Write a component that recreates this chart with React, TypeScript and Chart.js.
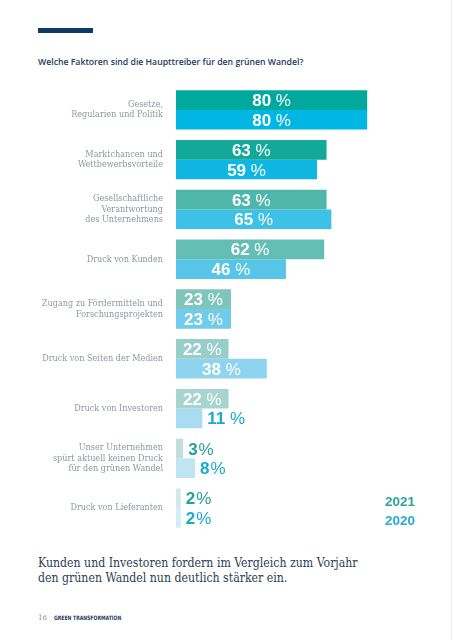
import React, { useEffect, useRef } from "react";
import { Chart, registerables } from "chart.js";

Chart.register(...registerables);

const categories: (string | string[])[] = [
  ["Gesetze,", "Regularien und Politik"],
  ["Marktchancen und", "Wettbewerbsvorteile"],
  ["Gesellschaftliche", "Verantwortung", "des Unternehmens"],
  "Druck von Kunden",
  ["Zugang zu Fördermitteln und", "Forschungsprojekten"],
  "Druck von Seiten der Medien",
  "Druck von Investoren",
  ["Unser Unternehmen", "spürt aktuell keinen Druck", "für den grünen Wandel"],
  "Druck von Lieferanten",
];

const values2021 = [80, 63, 63, 62, 23, 22, 22, 3, 2];
const values2020 = [80, 59, 65, 46, 23, 38, 11, 8, 2];

const colors2021 = ["#00a99b", "#12a89a", "#4fb6ab", "#65beb3", "#80c5bc", "#98cec8", "#a8d4cf", "#c0dfdb", "#d3e9e6"];
const colors2020 = ["#00b6e2", "#10b6e2", "#3ec1e6", "#57c5e8", "#71cbeb", "#8fd4ee", "#a9dcf1", "#bfe5f3", "#d4eef7"];

const seriesLabels = ["2021", "2020"];
const outsideColors = ["#23a394", "#1ba7d2"];

const LABEL_FONT = '9px "DejaVu Serif Condensed", "DejaVu Serif", serif';
const LABEL_LINE = 10.5;

const categoryLabelPlugin = {
  id: "categoryLabels",
  afterDraw(chart: any) {
    const ctx = chart.ctx;
    const yScale = chart.scales.y;
    const xRight = chart.chartArea.left - 13;
    ctx.save();
    ctx.font = LABEL_FONT;
    ctx.fillStyle = "#8e97a4";
    ctx.textAlign = "right";
    ctx.textBaseline = "middle";
    (chart.data.labels as any[]).forEach((lab: any, i: number) => {
      const lines: string[] = Array.isArray(lab) ? lab : [lab];
      const cy = yScale.getPixelForValue(i);
      const start = cy - ((lines.length - 1) * LABEL_LINE) / 2;
      lines.forEach((ln, k) => ctx.fillText(ln, xRight, start + k * LABEL_LINE));
    });
    ctx.restore();
  },
};

const valueLabelPlugin = {
  id: "valueLabels",
  afterDatasetsDraw(chart: any) {
    const ctx = chart.ctx;
    const size = 17;
    chart.data.datasets.forEach((ds: any, di: number) => {
      const meta = chart.getDatasetMeta(di);
      meta.data.forEach((el: any, i: number) => {
        const v = ds.data[i];
        const num = String(v);
        ctx.save();
        ctx.font = `bold ${size}px "Liberation Sans", Arial, sans-serif`;
        const wNum = ctx.measureText(num).width;
        ctx.font = `${size}px "Liberation Sans", Arial, sans-serif`;
        const wPct = ctx.measureText("%").width;
        const gap = v < 10 ? 1 : ctx.measureText(" ").width;
        const total = wNum + gap + wPct;
        const left = Math.min(el.base, el.x);
        const right = Math.max(el.base, el.x);
        const barW = right - left;
        let x0: number;
        let color: string;
        if (barW >= total + 8) {
          x0 = (left + right) / 2 - total / 2;
          color = "#ffffff";
        } else {
          x0 = right + 5;
          color = outsideColors[di];
        }
        const yb = el.y + size * 0.358;
        ctx.fillStyle = color;
        ctx.textAlign = "left";
        ctx.textBaseline = "alphabetic";
        ctx.font = `bold ${size}px "Liberation Sans", Arial, sans-serif`;
        ctx.fillText(num, x0, yb);
        ctx.font = `${size}px "Liberation Sans", Arial, sans-serif`;
        ctx.fillText("%", x0 + wNum + gap, yb);
        ctx.restore();
      });
    });
  },
};

function BarChart() {
  const ref = useRef<HTMLCanvasElement | null>(null);
  useEffect(() => {
    if (!ref.current) return;
    const chart = new Chart(ref.current, {
      type: "bar",
      data: {
        labels: categories,
        datasets: [
          { label: seriesLabels[0], data: values2021, backgroundColor: colors2021, borderWidth: 0 },
          { label: seriesLabels[1], data: values2020, backgroundColor: colors2020, borderWidth: 0 },
        ],
      },
      options: {
        indexAxis: "y",
        animation: false,
        responsive: false,
        maintainAspectRatio: false,
        events: [],
        layout: { padding: { left: 0, right: 38, top: 0, bottom: 0 } },
        datasets: { bar: { categoryPercentage: 0.79, barPercentage: 1 } },
        scales: {
          x: { display: false, min: 0, max: 100 },
          y: {
            grid: { display: false, drawTicks: false },
            border: { display: false },
            afterFit: (scale: any) => {
              scale.width = 176;
            },
            ticks: { display: false, padding: 0 },
          },
        },
        plugins: { legend: { display: false }, tooltip: { enabled: false } },
      } as any,
      plugins: [valueLabelPlugin, categoryLabelPlugin],
    });
    return () => chart.destroy();
  }, []);
  return <canvas ref={ref} width={453} height={448} style={{ position: "absolute", left: 0, top: 85, width: 453, height: 448 }} />;
}

export default function App() {
  return (
    <div style={{ position: "fixed", left: 0, top: 0, width: 453, height: 640, background: "#ffffff", overflow: "hidden" }}>
      <div style={{ position: "absolute", left: 38, top: 28, width: 55, height: 5, background: "#0e3a66" }} />
      <div
        style={{
          position: "absolute",
          left: 38,
          top: 55,
          fontFamily: '"Open Sans", sans-serif',
          fontWeight: 600,
          fontSize: 8.7,
          lineHeight: "14px",
          color: "#1f3a5a",
          whiteSpace: "nowrap",
        }}
      >
        Welche Faktoren sind die Haupttreiber für den grünen Wandel?
      </div>
      <BarChart />
      <div style={{ position: "absolute", left: 385, top: 494, fontFamily: '"Liberation Sans", Arial, sans-serif', fontWeight: 700, fontSize: 13.5, lineHeight: "16px", color: "#2aa597" }}>
        {seriesLabels[0]}
      </div>
      <div style={{ position: "absolute", left: 385, top: 513, fontFamily: '"Liberation Sans", Arial, sans-serif', fontWeight: 700, fontSize: 13.5, lineHeight: "16px", color: "#29a9d3" }}>
        {seriesLabels[1]}
      </div>
      <div
        style={{
          position: "absolute",
          left: 38,
          top: 556,
          fontFamily: '"DejaVu Serif Condensed", "DejaVu Serif", serif',
          fontSize: 12.2,
          lineHeight: "14.5px",
          color: "#2c3e55",
          whiteSpace: "nowrap",
        }}
      >
        Kunden und Investoren fordern im Vergleich zum Vorjahr
        <br />
        den grünen Wandel nun deutlich stärker ein.
      </div>
      <div style={{ position: "absolute", left: 38, top: 612, fontFamily: '"DejaVu Serif Condensed", serif', fontSize: 8, lineHeight: "12px", color: "#8b95a2" }}>16</div>
      <div
        style={{
          position: "absolute",
          left: 54,
          top: 613,
          fontFamily: '"DejaVu Sans Condensed", "DejaVu Sans", sans-serif',
          fontWeight: 700,
          fontSize: 6,
          lineHeight: "10px",
          color: "#1f3a5a",
          whiteSpace: "nowrap",
          transform: "scaleX(0.85)",
          transformOrigin: "left center",
        }}
      >
        GREEN TRANSFORMATION
      </div>
      <div style={{ position: "absolute", left: 451, top: 0, width: 1, height: 640, background: "#ececec" }} />
    </div>
  );
}
